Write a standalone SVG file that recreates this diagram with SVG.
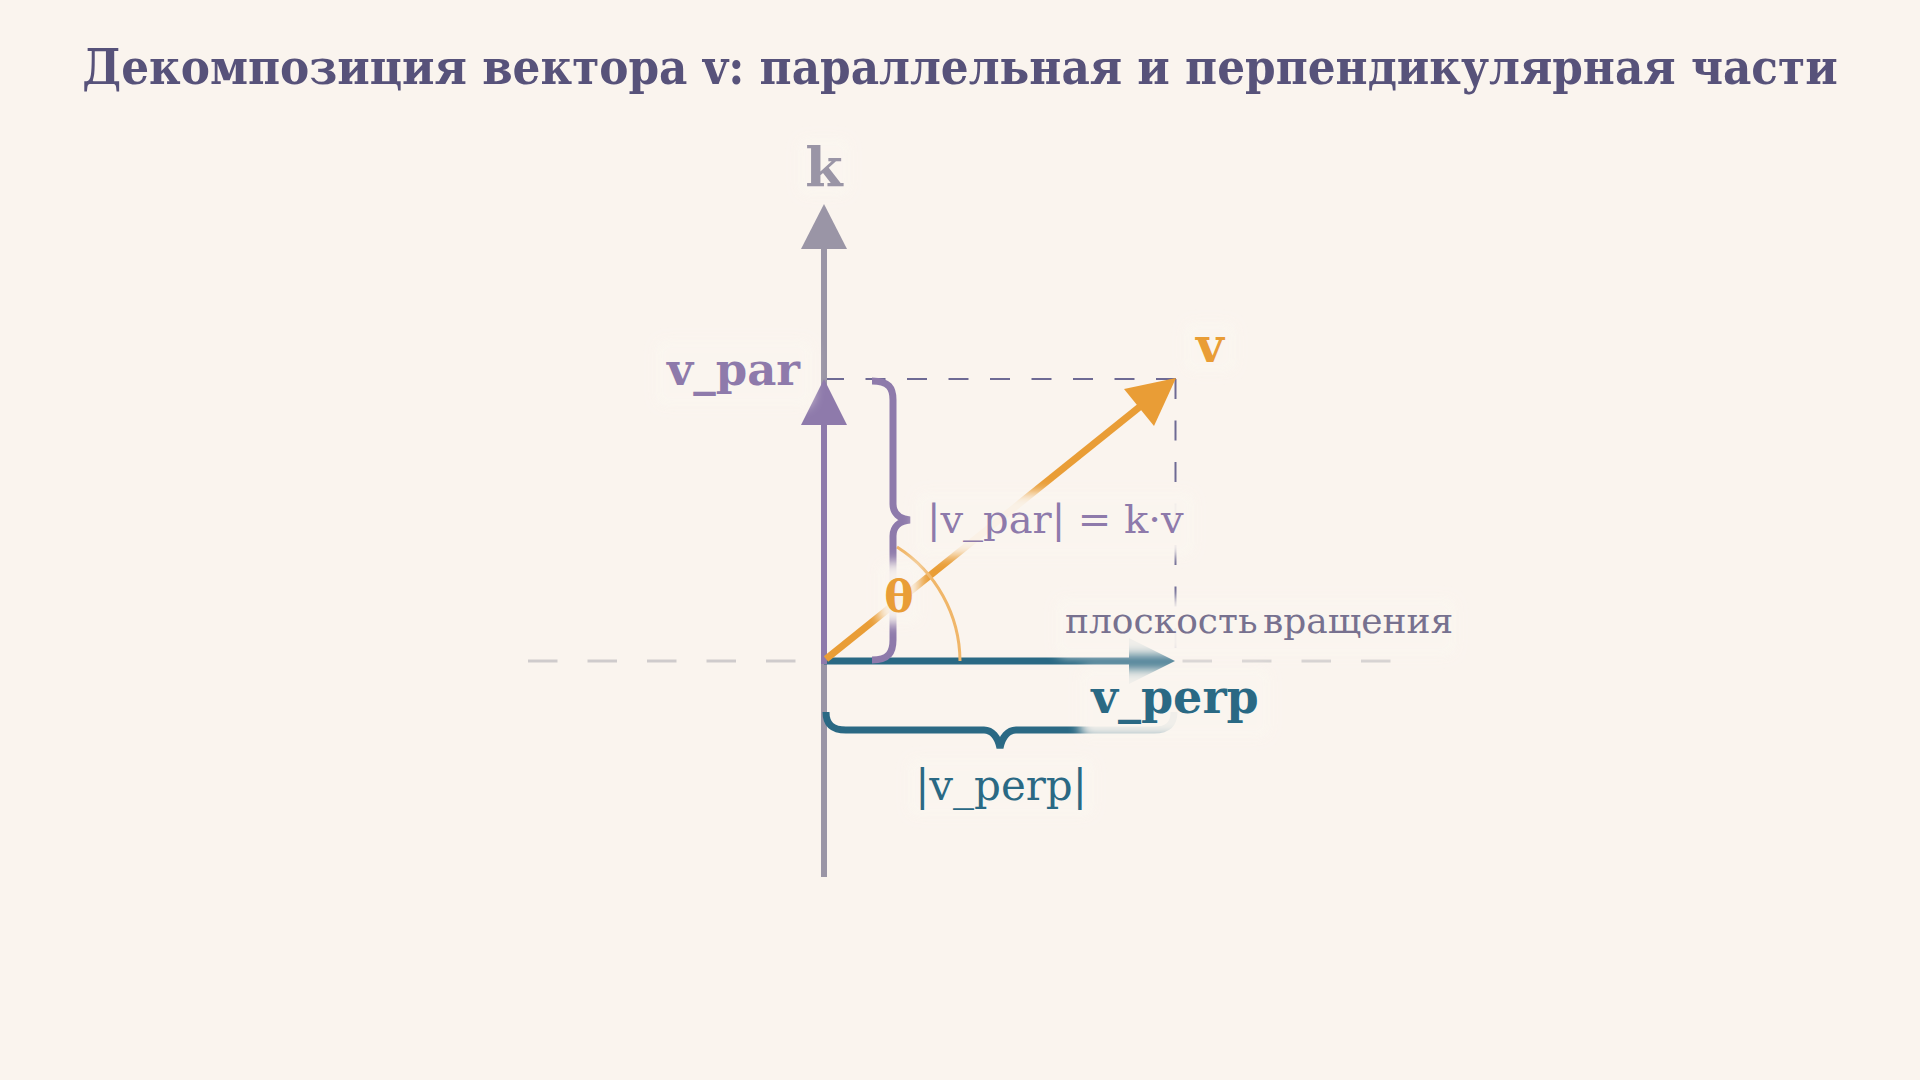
<svg xmlns="http://www.w3.org/2000/svg" width="1920" height="1080" viewBox="0 0 1920 1080">
<style>
.title{font-family:"DejaVu Serif Condensed","DejaVu Serif",serif;font-stretch:condensed;font-weight:bold;font-size:48.7px;fill:#57527a}
.lb{font-family:"DejaVu Serif",serif;font-weight:bold}
.lr{font-family:"DejaVu Serif",serif}
.halo{fill:#fbf6f0;opacity:0.95;filter:url(#blur)}
.proj{stroke:#6e6a94;stroke-width:2;stroke-dasharray:20 21.5;fill:none}
</style>
<defs>
<filter id="blur" x="-30%" y="-60%" width="160%" height="220%"><feGaussianBlur stdDeviation="6"/></filter>
</defs>
<rect width="1920" height="1080" fill="#faf4ee"/>
<text id="title" class="title" x="960" y="84" text-anchor="middle">Декомпозиция вектора v: параллельная и перпендикулярная части</text>

<g id="connectors">
<line id="plane" x1="528" y1="661" x2="1392" y2="661" stroke="#cfcbcc" stroke-width="3" stroke-dasharray="29.5 30"/>
<line class="proj" x1="824" y1="379" x2="1176" y2="379"/>
<line class="proj" x1="1175.5" y1="379" x2="1175.5" y2="661"/>
</g>

<g id="axis-k">
<line x1="824" y1="877" x2="824" y2="240" stroke="#9a95a6" stroke-width="6"/>
<polygon points="824,204 801,249 847,249" fill="#9a95a6"/>
</g>

<g id="v-perp">
<line x1="824" y1="661" x2="1140" y2="661" stroke="#2a6984" stroke-width="7"/>
<polygon points="1175,661 1129,638 1129,684" fill="#2a6984"/>
</g>

<g id="v-par">
<line x1="824" y1="664" x2="824" y2="415" stroke="#8e7aab" stroke-width="6"/>
<polygon points="824,379 801,425 847,425" fill="#8e7aab"/>
</g>

<g id="vector-v">
<line x1="826" y1="659" x2="1142" y2="405" stroke="#e99d36" stroke-width="7"/>
<polygon points="1176,378 1124,389 1154,426" fill="#e99d36"/>
</g>

<g id="angle-theta">
<path d="M960,661 A136,136 0 0 0 897,547" fill="none" stroke="#f0b669" stroke-width="3"/>
</g>

<g id="brace-par">
<path d="M872,381 C889,381 893,388 893,400 L893,504 C893,513 899,519 910,520 C899,521 893,527 893,536 L893,640 C893,652 889,660 872,660" fill="none" stroke="#8e7aab" stroke-width="7"/>
</g>

<g id="brace-perp">
<path d="M826,712 C826,724 832,730 846,730 L984,730 C992,730 998,737 1000,748 C1002,737 1008,730 1016,730 L1154,730 C1168,730 1174,724 1174,712" fill="none" stroke="#2a6984" stroke-width="7"/>
</g>

<g id="label-k">
<rect class="halo" x="798" y="138" width="52" height="58" rx="10"/>
<text class="lb" x="824" y="186" text-anchor="middle" font-size="54" fill="#9a95a6">k</text>
</g>
<g id="label-vpar">
<rect class="halo" x="656" y="340" width="156" height="66" rx="10"/>
<text class="lb" x="800" y="385" text-anchor="end" font-size="45" fill="#8e7aab">v_par</text>
</g>
<g id="label-v">
<rect class="halo" x="1184" y="322" width="52" height="50" rx="10"/>
<text class="lb" x="1210" y="362" text-anchor="middle" font-size="48" fill="#e99d36">v</text>
</g>
<g id="label-theta">
<rect class="halo" x="878" y="562" width="42" height="62" rx="8"/>
<text class="lb" x="899" y="612" text-anchor="middle" font-size="44" fill="#e99d36">θ</text>
</g>
<g id="label-vpar-len">
<rect class="halo" x="916" y="492" width="278" height="64" rx="10"/>
<text class="lr" x="927" y="533" font-size="40" fill="#8e7aab">|v_par| = k·v</text>
</g>
<g id="label-plane">
<rect class="halo" x="1056" y="598" width="400" height="58" rx="10"/>
<text class="lr" x="1065" y="633" font-size="36" word-spacing="-6" fill="#77718f">плоскость вращения</text>
</g>
<g id="label-vperp">
<rect class="halo" x="1080" y="668" width="190" height="70" rx="10"/>
<text class="lb" x="1175" y="713" text-anchor="middle" font-size="46" fill="#2a6984">v_perp</text>
</g>
<g id="label-vperp-len">
<rect class="halo" x="908" y="758" width="186" height="58" rx="10"/>
<text class="lr" x="1001" y="800" text-anchor="middle" font-size="42" fill="#2a6984">|v_perp|</text>
</g>
</svg>
